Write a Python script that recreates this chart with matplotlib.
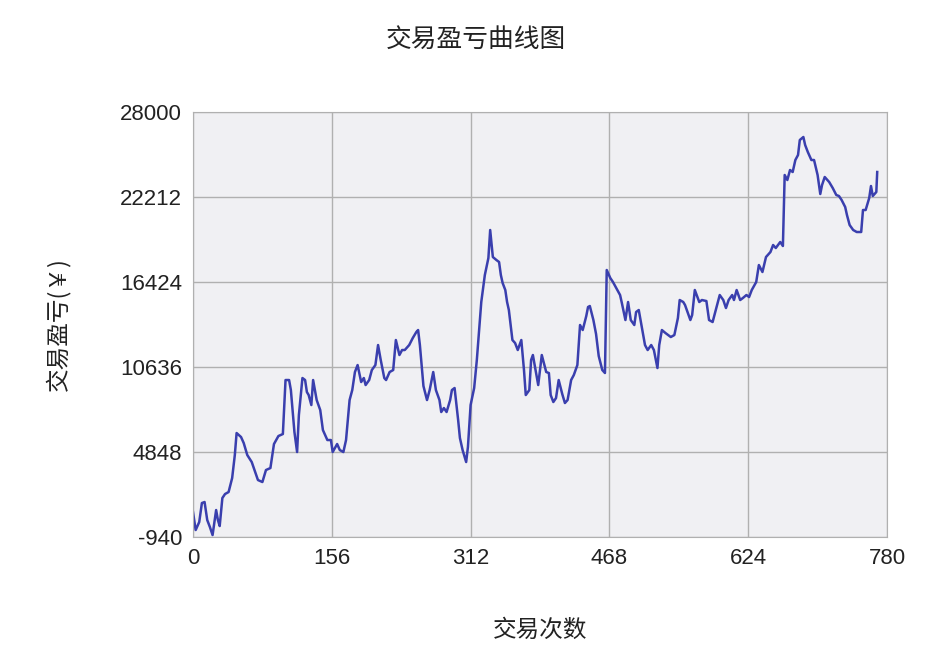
import matplotlib
matplotlib.use("Agg")
import matplotlib.pyplot as plt

plt.rcParams['font.family'] = ['Noto Sans CJK SC', 'DejaVu Sans']

trade_idx = [0,3,7,10,13,16,19,22,26,28,30,33,36,40,44,47,49,54,57,61,66,73,78,82,87,91,96,101,104,108,110,114,117,119,123,126,128,130,133,135,139,143,146,151,155,157,162,165,169,172,176,179,182,185,189,192,194,198,201,205,208,211,215,217,221,225,228,232,235,238,243,247,251,253,255,259,263,266,270,273,277,279,282,285,289,291,294,298,300,303,307,309,312,316,319,324,328,332,334,337,341,344,346,348,351,353,355,359,362,365,369,372,374,378,380,382,386,388,390,392,397,400,402,405,408,411,415,418,421,425,428,432,435,438,442,444,446,450,453,456,460,463,465,469,472,477,480,482,486,489,492,496,498,501,505,508,511,515,518,522,524,527,531,534,537,541,545,547,551,553,559,561,564,569,572,577,580,584,589,592,596,599,602,606,608,611,615,618,622,625,628,633,636,640,644,649,652,655,660,663,665,668,671,674,677,680,682,686,688,691,695,698,702,705,707,710,715,719,723,726,729,733,735,738,742,746,751,753,756,760,762,764,768,769]
profit = [760,-466,79,1373,1441,215,-262,-807,896,215,-194,1713,1986,2122,3075,4641,6140,5867,5459,4641,4165,2939,2803,3620,3756,5391,5935,6072,9749,9749,9068,6208,4846,7365,9885,9749,8932,8727,8046,9749,8387,7706,6344,5663,5663,4846,5391,4982,4846,5663,8387,9068,10294,10770,9613,9885,9408,9749,10430,10770,12132,11111,9885,9749,10294,10430,12473,11451,11792,11792,12132,12609,13018,13154,12132,9340,8387,9068,10294,9068,8387,7570,7842,7570,8387,9068,9204,7025,5799,4982,4165,5186,8046,9204,11111,15061,16899,18057,19964,18125,17921,17785,16899,16355,15878,15061,14516,12473,12269,11792,12473,10430,8727,9068,11111,11451,10089,9408,10430,11451,10294,10226,8727,8251,8523,9749,8796,8183,8387,9749,10089,10770,13494,13154,14107,14720,14788,13835,12882,11383,10430,10226,17240,16695,16423,15878,15537,14993,13835,15061,13835,13494,14380,14516,13154,12132,11792,12132,11792,10566,12132,13154,12950,12813,12677,12813,13971,15197,15061,14856,13835,14175,15878,15061,15197,15129,13835,13699,14856,15537,15197,14652,15197,15537,15197,15878,15197,15333,15537,15401,15878,16423,17580,17104,18125,18466,18942,18738,19147,18874,23709,23369,24050,23914,24731,25071,26093,26297,25752,25276,24731,24731,23709,22416,23028,23573,23233,22824,22347,22279,22007,21530,20985,20304,19964,19828,19828,21326,21326,22143,22960,22279,22552,23914]

x_ticks = [0,156,312,468,624,780]
y_ticks = [-940,4848,10636,16424,22212,28000]

fig = plt.figure(figsize=(9.46,6.68), dpi=100)
ax = fig.add_axes([193/946, 1-537/668, 694/946, 425/668])
ax.set_facecolor('#f0f0f3')
ax.plot(trade_idx, profit, color='#3a3fae', lw=1.8)
ax.set_xlim(0,780); ax.set_ylim(-940,28000)
ax.set_xticks(x_ticks); ax.set_yticks(y_ticks)
ax.set_xticklabels([str(v) for v in x_ticks], family='Liberation Sans')
ax.set_yticklabels([str(v) for v in y_ticks], family='Liberation Sans')
ax.grid(True, color='#b0b0b0', lw=1)
ax.set_axisbelow(True)
for s in ax.spines.values():
    s.set_color('#b0b0b0')
ax.tick_params(length=0, labelsize=16, colors='#222222', pad=8)
fig.text(476/946, 1-40/668, '交易盈亏曲线图', fontsize=18.5, color='#222222', ha='center', va='center')
ax.set_xlabel('交易次数', fontsize=17, labelpad=36, color='#222222')
ax.set_ylabel('交易盈亏(￥)', fontsize=17, labelpad=36, color='#222222')
fig.savefig('out.png', dpi=100, facecolor='white')
